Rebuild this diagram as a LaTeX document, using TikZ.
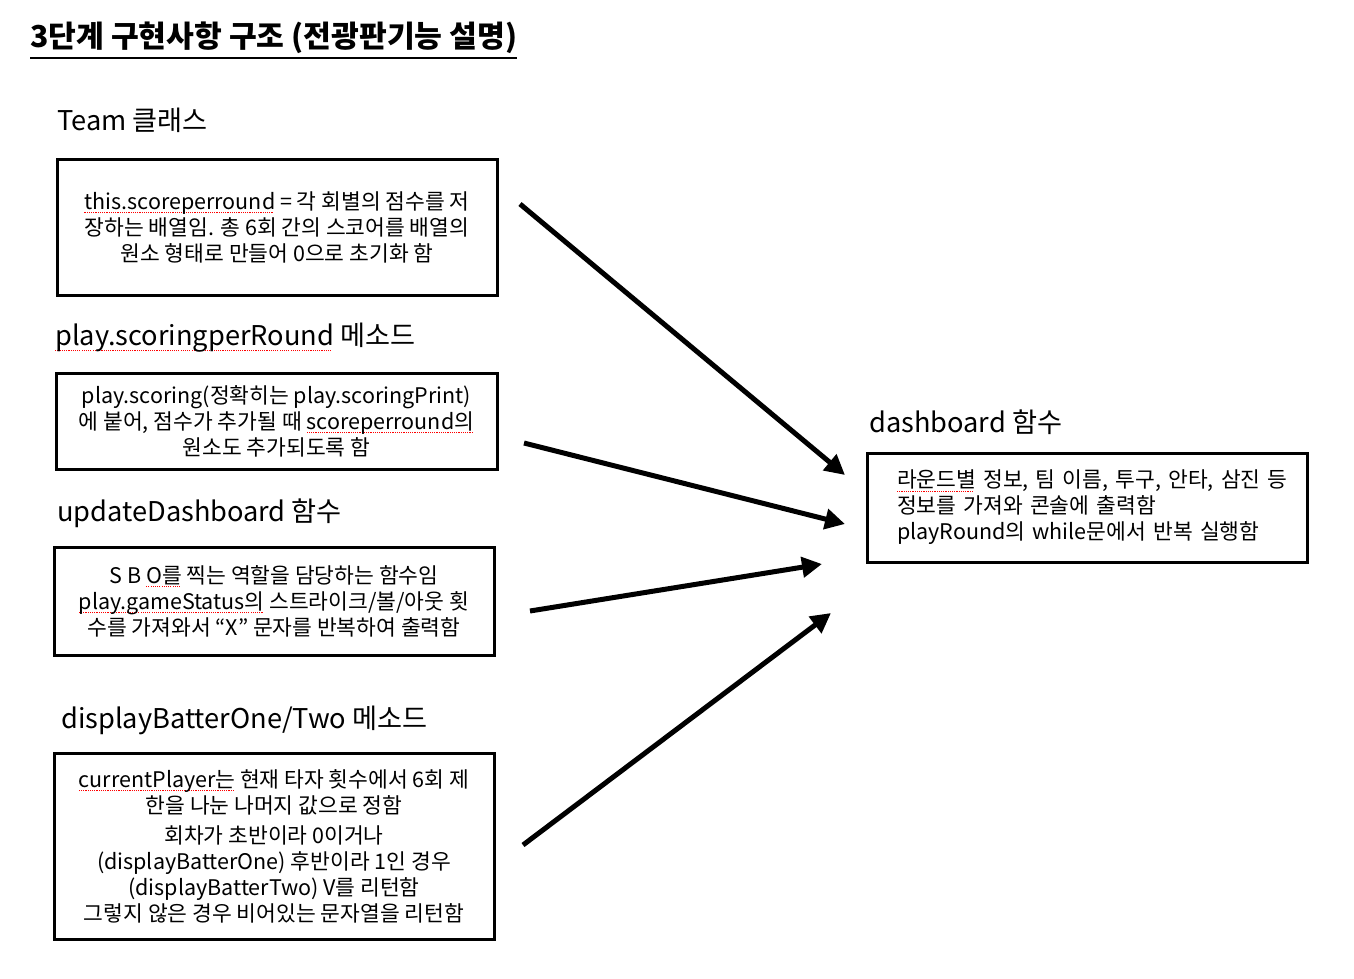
\documentclass[tikz,border=0pt]{standalone}
\usepackage{fontspec}
\setmainfont{Noto Sans CJK KR}
\usetikzlibrary{arrows.meta,calc,positioning}
% red dotted spell-check underline
\newsavebox\typobox
\newcommand\typoline[1]{\sbox\typobox{#1}\rlap{\color{red}\raisebox{-0.35ex}{\leaders\hbox to 2.2pt{\rule{1.1pt}{1.1pt}\hss}\hskip\wd\typobox}}\usebox\typobox}

\begin{document}
\begin{tikzpicture}[x=1pt,y=-1pt,>=Latex,line cap=butt]
\path[fill=white] (0,0) rectangle (1354,978);
\tikzset{descbox/.style={draw=black,line width=3pt,font=\fontsize{21.5}{26}\selectfont,align=center,inner sep=0pt},headlbl/.style={anchor=west,inner sep=0pt,font=\fontsize{27.2}{30}\selectfont},feed/.style={line width=5pt,-{Triangle[length=20pt,width=20pt]}}}
\node[anchor=west,inner sep=0pt,font=\bfseries\fontsize{30.2}{34}\selectfont] (title) at (30,38) {3단계 구현사항 구조 (전광판기능 설명)};
\draw[line width=2.5pt] ($(title.south west)+(0,4)$) -- ($(title.south east)+(0,4)$);
\node[headlbl] (teamLbl) at (57,120) {Team 클래스};
\node[descbox,minimum width=440pt,minimum height=136pt] (teamBox) at (277,227) {\typoline{this.scoreperround} = 각 회별의 점수를 저\\장하는 배열임. 총 6회 간의 스코어를 배열의\\원소 형태로 만들어 0으로 초기화 함};
\node[headlbl] (scoringLbl) at (55,338) {\typoline{play.scoringperRound} 메소드};
\node[descbox,minimum width=441pt,minimum height=96pt] (scoringBox) at (276.5,421) {play.scoring(정확히는 play.scoringPrint)\\에 붙어, 점수가 추가될 때 \typoline{scoreperround의}\\원소도 추가되도록 함};
\node[headlbl] (updateLbl) at (57,513) {updateDashboard 함수};
\node[descbox,minimum width=440pt,minimum height=108pt] (updateBox) at (274,601) {S B \typoline{O를} 찍는 역할을 담당하는 함수임\\\typoline{play.gameStatus의} 스트라이크/볼/아웃 횟\\수를 가져와서 “X” 문자를 반복하여 출력함};
\node[headlbl] (batterLbl) at (61,720) {displayBatterOne/Two 메소드};
\node[descbox,minimum width=440pt,minimum height=186pt] (batterBox) at (274,846) {\typoline{currentPlayer는} 현재 타자 횟수에서 6회 제\\한을 나눈 나머지 값으로 정함\\[4pt]회차가 초반이라 0이거나\\(displayBatterOne) 후반이라 1인 경우\\(displayBatterTwo) V를 리턴함\\그렇지 않은 경우 비어있는 문자열을 리턴함};
\node[headlbl] (dashLbl) at (869,422) {dashboard 함수};
\node[descbox,align=left,text width=380pt,minimum width=440pt,minimum height=109pt] (dashBox) at (1087,507.5) {\mbox{\typoline{라운드별} 정보, 팀 이름, 투구, 안타, 삼진 등}\\\mbox{정보를 가져와 콘솔에 출력함}\\\mbox{playRound의 while문에서 반복 실행함}};
% arrows into dashboard
\coordinate (teamOut) at (520,204); \coordinate (teamIn) at (845,475);
\coordinate (scoringOut) at (524,443); \coordinate (scoringIn) at (845,524);
\coordinate (updateOut) at (530,611); \coordinate (updateIn) at (822,564);
\coordinate (batterOut) at (523,845); \coordinate (batterIn) at (831,613);
\draw[feed] (teamOut) -- (teamIn);
\draw[feed] (scoringOut) -- (scoringIn);
\draw[feed] (updateOut) -- (updateIn);
\draw[feed] (batterOut) -- (batterIn);
\end{tikzpicture}
\end{document}
